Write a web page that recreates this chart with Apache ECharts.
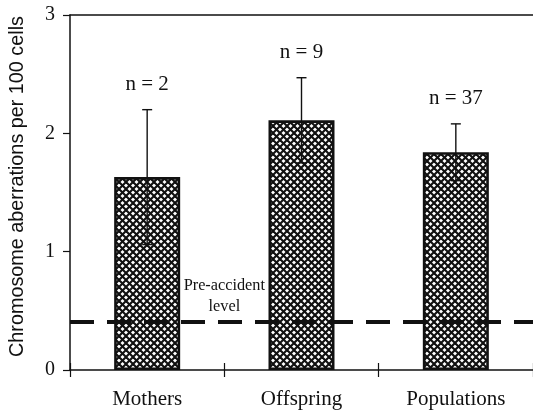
<!DOCTYPE html>
<html>
<head>
<meta charset="utf-8">
<script src="https://cdn.jsdelivr.net/npm/echarts@6/dist/echarts.min.js"></script>
<style>
html,body{margin:0;padding:0;background:#fff;}
#c{width:533px;height:415px;}
</style>
</head>
<body>
<div id="c"></div>
<script>
// ---- data ----
const categories = ['Mothers', 'Offspring', 'Populations'];
const means = [1.63, 2.11, 1.84];
const errors = [0.57, 0.36, 0.24];
const sampleSizes = [2, 9, 37];
const preAccidentLevel = 0.41;
const yTicks = [0, 1, 2, 3];

// ---- cross-hatch pattern ----
function makeHatch() {
  const s = 7;
  const cv = document.createElement('canvas');
  cv.width = s; cv.height = s;
  const ctx = cv.getContext('2d');
  ctx.fillStyle = '#fff';
  ctx.fillRect(0, 0, s, s);
  ctx.strokeStyle = '#111';
  ctx.lineWidth = 2.1;
  for (const k of [-s, 0, s]) {
    ctx.beginPath(); ctx.moveTo(k, 0); ctx.lineTo(k + s, s); ctx.stroke();
    ctx.beginPath(); ctx.moveTo(k + s, 0); ctx.lineTo(k, s); ctx.stroke();
  }
  return cv;
}
const hatch = makeHatch();

const serif = '"Liberation Serif", "DejaVu Serif", serif';
const sans = '"Liberation Sans", Arial, sans-serif';

const chart = echarts.init(document.getElementById('c'), null, {renderer: 'canvas'});
const errData = categories.map((c, i) => [i, means[i], errors[i], sampleSizes[i]]);

chart.setOption({
  animation: false,
  backgroundColor: '#fff',
  grid: {left: 70, top: 15, width: 465, height: 355, containLabel: false},
  xAxis: [
    {
      type: 'category', data: categories, position: 'bottom',
      axisLine: {lineStyle: {color: '#111', width: 1.5}},
      axisTick: {show: true, inside: true, length: 7, alignWithLabel: false, lineStyle: {color: '#111', width: 1.2}},
      axisLabel: {color: '#111', fontFamily: serif, fontSize: 21, margin: 19},
      splitLine: {show: false}
    },
    {
      type: 'category', data: categories, position: 'bottom', offset: 0,
      axisLine: {show: false},
      axisTick: {show: true, inside: false, length: 7, lineStyle: {color: '#111', width: 1.2}},
      axisLabel: {show: false},
      splitLine: {show: false}
    },
    {
      type: 'category', data: categories, position: 'top', offset: 0,
      axisLine: {show: true, lineStyle: {color: '#111', width: 1.5}},
      axisTick: {show: false},
      axisLabel: {show: false},
      splitLine: {show: false}
    }
  ],
  yAxis: {
    type: 'value', min: yTicks[0], max: yTicks[yTicks.length - 1], interval: 1,
    name: 'Chromosome aberrations per 100 cells',
    nameLocation: 'middle', nameGap: 42, nameRotate: 90,
    nameTextStyle: {color: '#111', fontFamily: sans, fontSize: 19.8, padding: [0, 0, 0, 12]},
    axisLine: {show: true, lineStyle: {color: '#111', width: 1.5}},
    axisTick: {show: true, inside: false, length: 7, lineStyle: {color: '#111', width: 1.2}},
    axisLabel: {color: '#111', fontFamily: serif, fontSize: 20, margin: 15},
    splitLine: {show: false}
  },
  series: [
    {
      type: 'bar', data: means, barWidth: 66, xAxisIndex: 0, z: 2,
      itemStyle: {color: {image: hatch, repeat: 'repeat'}, borderColor: '#111', borderWidth: 2.6}
    },
    {
      type: 'line', data: [], xAxisIndex: 0, z: 5, silent: true,
      markLine: {
        silent: true, symbol: ['none', 'none'],
        label: {show: false},
        lineStyle: {type: [24, 13], width: 4, color: '#111'},
        data: [{yAxis: preAccidentLevel}]
      }
    },
    {
      type: 'custom', xAxisIndex: 0, z: 6, silent: true,
      data: errData,
      renderItem: function (params, api) {
        const idx = api.value(0), m = api.value(1), e = api.value(2), n = api.value(3);
        const top = api.coord([idx, m + e]);
        const bot = api.coord([idx, m - e]);
        const cap = 5;
        const st = {stroke: '#111', lineWidth: 1.4};
        const children = [
          {type: 'line', shape: {x1: top[0], y1: top[1], x2: bot[0], y2: bot[1]}, style: st},
          {type: 'line', shape: {x1: top[0] - cap, y1: top[1], x2: top[0] + cap, y2: top[1]}, style: st},
          {type: 'line', shape: {x1: bot[0] - cap, y1: bot[1], x2: bot[0] + cap, y2: bot[1]}, style: st},
          {type: 'text', x: top[0], y: top[1] - 25,
           style: {text: 'n = ' + n, fill: '#111', font: '21px ' + serif, align: 'center', verticalAlign: 'middle'}}
        ];
        if (idx === 0) {
          const band = api.size([1, 0])[0];
          const p = api.coord([idx, preAccidentLevel]);
          children.push({type: 'text', x: p[0] + band / 2, y: p[1] - 25,
            style: {text: 'Pre-accident\nlevel', fill: '#111', font: '16.3px ' + serif, lineHeight: 21, align: 'center', verticalAlign: 'middle'}});
        }
        return {type: 'group', children: children};
      }
    }
  ]
});
</script>
</body>
</html>
